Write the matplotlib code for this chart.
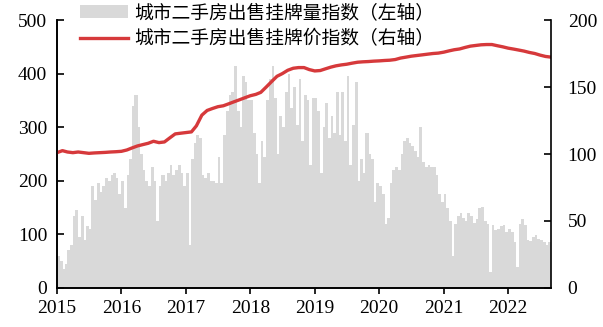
import numpy as np
import pandas as pd
import matplotlib.pyplot as plt

plt.rcParams['font.family'] = ['Liberation Serif', 'Noto Sans CJK SC']

# 城市二手房出售挂牌量指数（左轴），半月值
vol_2015 = [60, 50, 35, 45, 70, 80, 135, 145, 95, 135, 90, 115,
            110, 190, 165, 195, 180, 190, 205, 200, 210, 215, 205, 175]
vol_2016 = [200, 150, 210, 240, 340, 360, 300, 250, 220, 200, 190, 225,
            200, 125, 190, 210, 200, 215, 230, 210, 220, 230, 215, 190]
vol_2017 = [215, 80, 240, 270, 285, 280, 210, 205, 215, 200, 200, 195,
            245, 195, 285, 330, 360, 365, 415, 330, 300, 395, 385, 350]
vol_2018 = [350, 290, 250, 195, 275, 245, 350, 390, 415, 355, 250, 320,
            300, 365, 400, 335, 375, 305, 390, 275, 360, 350, 230, 355]
vol_2019 = [355, 330, 215, 300, 345, 280, 320, 290, 365, 285, 365, 275,
            395, 230, 305, 385, 200, 240, 215, 290, 250, 240, 160, 195]
vol_2020 = [190, 175, 120, 130, 195, 220, 225, 220, 250, 275, 280, 270,
            265, 255, 245, 300, 235, 225, 230, 225, 225, 210, 175, 160]
vol_2021 = [175, 150, 125, 60, 120, 135, 140, 130, 125, 140, 135, 122,
            128, 150, 152, 125, 120, 30, 118, 108, 110, 115, 118, 105]
vol_2022 = [110, 105, 85, 40, 120, 128, 118, 90, 88, 95, 98, 92,
            90, 85, 80, 85]
volume = vol_2015 + vol_2016 + vol_2017 + vol_2018 + vol_2019 + vol_2020 + vol_2021 + vol_2022

# 城市二手房出售挂牌价指数（右轴），月值
price = [101, 102.5, 101.5, 101, 101.5, 101, 100.5, 100.8, 101, 101.2, 101.5, 101.7,
         102, 103, 104.5, 106, 107, 108, 109.5, 108.5, 109, 112, 115, 115.5,
         116, 116.5, 121, 129, 132.5, 134, 135.3, 136, 137.5, 139, 140.5, 142,
         143.5, 144.5, 146, 150, 154, 158, 160, 162.5, 164, 164.5, 164.5, 163,
         162, 162.3, 163.5, 164.8, 165.8, 166.5, 167, 167.8, 168.5, 168.8, 169, 169.3,
         169.5, 169.8, 170, 170.5, 171.6, 172.3, 173, 173.5, 174, 174.5, 175, 175.3,
         176, 177, 177.8, 178.4, 179.5, 180.5, 181, 181.5, 181.7, 181.7, 180.8, 180,
         179, 178.3, 177.6, 176.8, 175.8, 175, 173.8, 172.8, 172.3]

years = [2015, 2016, 2017, 2018, 2019, 2020, 2021, 2022]
label_vol = '城市二手房出售挂牌量指数（左轴）'
label_price = '城市二手房出售挂牌价指数（右轴）'

edges = pd.date_range('2015-01-01', periods=len(volume) + 1, freq='SMS')
vol_dates = edges[:-1]
widths = (edges[1:] - edges[:-1]).days + 0.6
price_dates = pd.date_range('2015-01-01', periods=len(price), freq='MS')

fig = plt.figure(figsize=(6.03, 3.27), dpi=100)
ax = fig.add_axes([0.0945, 0.1193, 0.8193, 0.8195])
bars = ax.bar(vol_dates, volume, width=widths, align='edge', color='#d9d9d9',
              linewidth=0, label=label_vol)
ax2 = ax.twinx()
line, = ax2.plot(price_dates, price, color='#d6393b', lw=2.4, label=label_price)

ax.set_xlim(pd.Timestamp('2015-01-01'), pd.Timestamp('2022-09-01'))
ax.set_ylim(0, 500)
ax2.set_ylim(0, 200)
ax.set_yticks(range(0, 501, 100))
ax2.set_yticks(range(0, 201, 50))
ax.set_xticks([pd.Timestamp(f'{y}-01-01') for y in years])
ax.set_xticklabels([str(y) for y in years])

for a in (ax, ax2):
    a.spines['top'].set_visible(False)
    for s in ('left', 'right', 'bottom'):
        a.spines[s].set_linewidth(1.2)
ax.spines['right'].set_visible(False)

ax.tick_params(axis='y', direction='in', length=5, width=1.2, pad=7, labelsize=14)
ax.tick_params(axis='x', direction='out', length=4, width=1.2, pad=5, labelsize=14)
ax2.tick_params(axis='y', direction='in', length=5, width=1.2, pad=12, labelsize=14)

fig.legend([bars, line], [label_vol, label_price], loc='upper left',
           bbox_to_anchor=(0.129, 1.0), frameon=False,
           prop={'family': ['Noto Sans CJK SC'], 'size': 13.5},
           handlelength=2.6, handletextpad=0.3, labelspacing=0.3,
           borderpad=0.1, borderaxespad=0)

fig.savefig('out.png', dpi=100)
